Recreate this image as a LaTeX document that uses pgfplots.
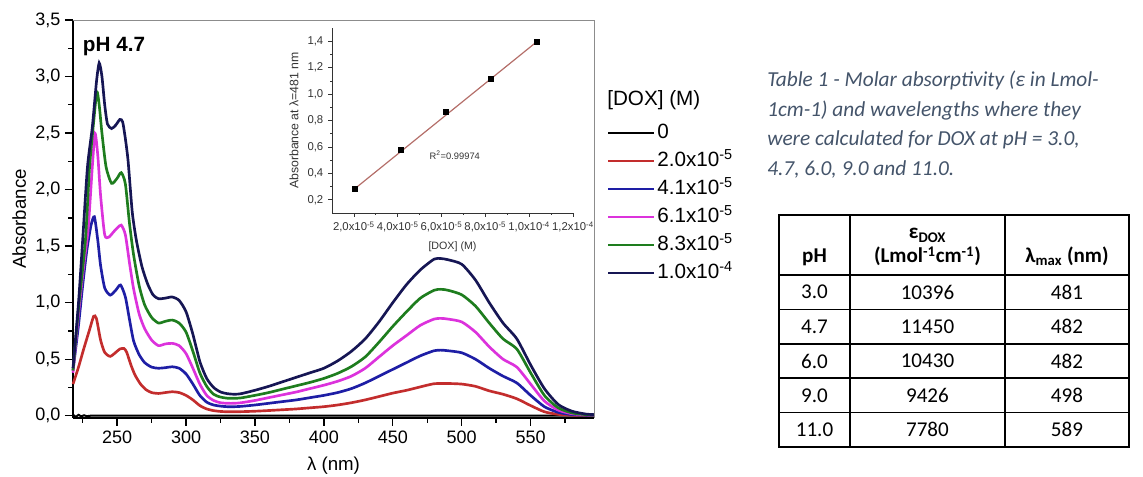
\documentclass[border=0pt]{standalone}
\usepackage{fontspec}
\setmainfont{Liberation Sans}
\newfontfamily\calibri{Carlito}
\usepackage{pgfplots}
\pgfplotsset{compat=1.18}
\definecolor{cnavy}{RGB}{22,22,84}
\definecolor{cblue}{RGB}{30,30,165}
\definecolor{cmag}{RGB}{220,50,220}
\definecolor{cgreen}{RGB}{30,125,30}
\definecolor{cred}{RGB}{195,45,45}
\definecolor{capt}{HTML}{44546A}
\definecolor{fitc}{RGB}{180,110,105}
\begin{document}
\begin{tikzpicture}
\path[use as bounding box] (0pt,0pt) rectangle (857.25pt,357.75pt);
% ---------------- main spectra ----------------
\begin{axis}[
 at={(54.75pt,44.25pt)}, anchor=south west, scale only axis,
 width=390.75pt, height=298.5pt,
 xmin=218, xmax=596, ymin=-0.02, ymax=3.5,
 clip=false,
 axis lines*=left, axis line style={-, line width=1.4pt, black},
 xtick={250,300,350,400,450,500,550}, minor xtick={225,275,325,375,425,475,525,575},
 ytick={0,0.5,1,1.5,2,2.5,3,3.5}, minor ytick={0.25,0.75,1.25,1.75,2.25,2.75,3.25},
 tick align=outside, major tick length=6pt, minor tick length=3.5pt,
 tick style={line width=1pt, black},
 tick label style={font=\fontsize{13.5}{14}\selectfont, /pgf/number format/assume math mode=true},
 yticklabel style={/pgf/number format/.cd, fixed, fixed zerofill, precision=1, use comma, assume math mode=true},
 xticklabel style={/pgf/number format/.cd, 1000 sep={}, assume math mode=true},
 xlabel={λ (nm)}, ylabel={Absorbance},
 label style={font=\fontsize{14}{16}\selectfont},
 xlabel style={yshift=-3pt},
 legend style={at={(axis description cs:1.025,0.7425)}, anchor=north west, draw=none, fill=none,
   inner sep=0pt, font=\fontsize{15.5}{15.5}\selectfont, row sep=5pt, column sep=1.5pt,
   nodes={inner sep=0pt, text height=11.5pt, text depth=4.5pt}},
 legend cell align=left,
 legend image code/.code={\draw[#1, line width=1.5pt] (0pt,0pt) -- (34.5pt,0pt);},
 every axis plot/.append style={line width=2pt, smooth, tension=0.4},
]
\addplot[black, line width=1.5pt] coordinates {(218,0.01)(220,-0.01)(222,0.008)(224,-0.006)(226,0.004)(228,-0.004)(232,0.002)(240,0)(300,0)(400,0)(500,0)(596,0)};
\addlegendentry{0}
\addplot[cred] coordinates {(218,0.28)(222,0.43)(226,0.6)(230,0.76)(233,0.88)(235,0.86)(238,0.67)(241,0.56)(245,0.525)(249,0.56)(252,0.59)(255,0.595)(257,0.56)(260,0.45)(263,0.36)(267,0.28)(271,0.23)(275,0.205)(280,0.197)(285,0.205)(290,0.212)(295,0.205)(300,0.18)(305,0.14)(310,0.09)(315,0.06)(320,0.045)(325,0.038)(330,0.035)(340,0.036)(350,0.04)(360,0.046)(370,0.053)(380,0.06)(390,0.07)(400,0.08)(410,0.095)(420,0.115)(430,0.14)(440,0.17)(450,0.2)(460,0.225)(470,0.255)(480,0.283)(490,0.285)(500,0.28)(510,0.26)(520,0.22)(530,0.19)(540,0.15)(550,0.09)(560,0.035)(570,0.012)(580,0.005)(590,0.003)(596,0.002)};
\addlegendentry{2.0x10\textsuperscript{-5}}
\addplot[cblue] coordinates {(218,0.4)(222,0.8)(225,1.15)(228,1.46)(231,1.68)(233.5,1.76)(236,1.55)(238,1.33)(241,1.13)(245,1.067)(249,1.11)(252.5,1.156)(256,1.05)(259,0.85)(262,0.66)(266,0.54)(270,0.47)(275,0.43)(280,0.42)(285,0.425)(290,0.433)(295,0.42)(300,0.37)(305,0.28)(310,0.18)(315,0.12)(320,0.095)(325,0.085)(330,0.08)(335,0.08)(340,0.083)(350,0.095)(360,0.11)(370,0.125)(380,0.14)(390,0.16)(400,0.18)(410,0.205)(420,0.24)(430,0.29)(440,0.35)(450,0.41)(460,0.47)(470,0.53)(480,0.575)(485,0.58)(490,0.575)(500,0.557)(510,0.5)(520,0.42)(530,0.35)(540,0.29)(550,0.18)(560,0.08)(570,0.03)(580,0.01)(590,0.005)(596,0.003)};
\addlegendentry{4.1x10\textsuperscript{-5}}
\addplot[cmag] coordinates {(218,0.38)(222,0.9)(226,1.35)(229,1.65)(232,2.2)(234,2.497)(236,2.3)(238,1.95)(241,1.6)(244,1.58)(247,1.62)(250,1.66)(253,1.686)(256,1.6)(259,1.35)(262,1.12)(266,0.9)(270,0.77)(275,0.67)(280,0.62)(285,0.635)(290,0.64)(295,0.62)(300,0.55)(305,0.42)(310,0.28)(315,0.18)(320,0.135)(325,0.115)(330,0.11)(335,0.11)(340,0.115)(350,0.135)(360,0.16)(370,0.185)(380,0.21)(390,0.24)(400,0.27)(410,0.305)(420,0.35)(430,0.42)(440,0.52)(450,0.62)(460,0.71)(470,0.8)(480,0.855)(485,0.861)(490,0.855)(500,0.83)(510,0.74)(520,0.61)(530,0.5)(540,0.43)(550,0.28)(560,0.13)(570,0.05)(580,0.018)(590,0.008)(596,0.005)};
\addlegendentry{6.1x10\textsuperscript{-5}}
\addplot[cgreen] coordinates {(218,0.4)(222,0.95)(227,1.55)(230,2.2)(233,2.6)(235.3,2.865)(237,2.75)(239,2.5)(242,2.2)(246,2.055)(250,2.1)(253,2.15)(256,2.05)(259,1.7)(262,1.42)(266,1.15)(270,0.98)(275,0.87)(280,0.82)(285,0.835)(290,0.846)(295,0.82)(300,0.74)(305,0.57)(310,0.38)(315,0.26)(320,0.19)(325,0.165)(330,0.155)(335,0.154)(340,0.158)(350,0.18)(360,0.205)(370,0.235)(380,0.265)(390,0.295)(400,0.33)(410,0.375)(420,0.435)(430,0.52)(440,0.65)(450,0.79)(460,0.92)(470,1.04)(480,1.11)(485,1.118)(490,1.11)(500,1.07)(510,0.97)(520,0.82)(530,0.68)(540,0.59)(550,0.38)(560,0.18)(570,0.07)(580,0.025)(590,0.01)(596,0.005)};
\addlegendentry{8.3x10\textsuperscript{-5}}
\addplot[cnavy] coordinates {(218,0.42)(222,1.0)(225,1.55)(228.5,2.2)(232,2.55)(235,2.95)(237,3.12)(239,3.0)(241,2.75)(243,2.58)(246,2.54)(249,2.57)(252,2.62)(254,2.6)(256,2.45)(258,2.25)(261,1.8)(264,1.55)(268,1.32)(272,1.17)(276,1.07)(280,1.035)(285,1.04)(290,1.05)(295,1.02)(300,0.92)(305,0.72)(310,0.48)(315,0.33)(320,0.25)(325,0.21)(330,0.195)(335,0.19)(340,0.195)(350,0.225)(360,0.26)(370,0.3)(380,0.34)(390,0.38)(400,0.42)(410,0.485)(420,0.57)(430,0.68)(440,0.83)(450,1.0)(460,1.16)(470,1.29)(480,1.385)(485,1.39)(490,1.38)(500,1.34)(510,1.2)(520,1.0)(530,0.82)(540,0.68)(550,0.45)(560,0.24)(570,0.1)(580,0.04)(590,0.015)(596,0.01)};
\addlegendentry{1.0x10\textsuperscript{-4}}
\draw[black!45, line width=0.7pt] (rel axis cs:0,1) -- (rel axis cs:1,1) -- (rel axis cs:1,0);
\end{axis}
% ---------------- inset ----------------
\begin{axis}[
 at={(249pt,198pt)}, anchor=south west, scale only axis,
 width=180.75pt, height=138.75pt,
 xmin=1, xmax=12, ymin=0.1, ymax=1.5,
 axis lines*=left, axis line style={-, line width=0.6pt, black!80},
 xtick={2,4,6,8,10,12},
 xticklabels={{2,0x10\textsuperscript{-5}},{4,0x10\textsuperscript{-5}},{6,0x10\textsuperscript{-5}},{8,0x10\textsuperscript{-5}},{1,0x10\textsuperscript{-4}},{1,2x10\textsuperscript{-4}}},
 minor x tick num=1,
 ytick={0.2,0.4,0.6,0.8,1.0,1.2,1.4}, minor y tick num=1,
 tick align=outside, major tick length=3pt, minor tick length=1.5pt,
 tick style={line width=0.5pt, black!80},
 tick label style={font=\fontsize{8.5}{9}\selectfont, black!80},
 yticklabel style={/pgf/number format/.cd, fixed, fixed zerofill, precision=1, use comma, assume math mode=true},
 xlabel={[DOX] (M)}, ylabel={Absorbance at λ=481 nm},
 label style={font=\fontsize{8}{9}\selectfont, black!80},
 ylabel style={font=\fontsize{9.2}{10}\selectfont},
]
\addplot[fitc, line width=0.9pt] coordinates {(2.05,0.285)(10.34,1.395)};
\addplot[only marks, mark=square*, mark size=2pt, black] coordinates {(2.05,0.283)(4.13,0.577)(6.2,0.865)(8.25,1.117)(10.34,1.395)};
\node[anchor=west, font=\fontsize{7}{8}\selectfont, black!80] at (axis cs:5.24,0.54) {R\textsuperscript{2}=0.99974};
\end{axis}
% ---------------- texts ----------------
\node[font=\bfseries\fontsize{15.5}{16}\selectfont] at (85.5pt,322.5pt) {pH 4.7};
\node[anchor=west, font=\fontsize{15.5}{16}\selectfont, inner sep=0pt] at (455.25pt,282.75pt) {[DOX] (M)};
% caption
\begin{scope}[every node/.style={anchor=base west, inner sep=0pt, text=capt, font=\calibri\itshape\fontsize{16}{18}\selectfont}]
\node at (575.25pt,292.5pt) {Table 1 - Molar absorptivity (ε in Lmol-};
\node at (575.25pt,270.375pt) {1cm-1) and wavelengths where they};
\node at (575.25pt,248.25pt) {were calculated for DOX at pH = 3.0,};
\node at (575.25pt,226.125pt) {4.7, 6.0, 9.0 and 11.0.};
\end{scope}
% table
\begin{scope}[line width=1.3pt]
\draw (584.25pt,22.5pt) rectangle (846.75pt,196.5pt);
\draw (637.5pt,22.5pt) -- (637.5pt,196.5pt);
\draw (753.75pt,22.5pt) -- (753.75pt,196.5pt);
\foreach \yy in {151.5,125.7,99.9,74.1,48.3} {\draw (584.25pt,\yy pt) -- (846.75pt,\yy pt);}
\end{scope}
\begin{scope}[every node/.style={inner sep=0pt, font=\calibri\fontsize{15.8}{18}\selectfont}]
\node[anchor=base, font=\calibri\bfseries\fontsize{15.8}{18}\selectfont] at (610.9pt,160.5pt) {pH};
\node[anchor=base, font=\calibri\bfseries\fontsize{15.8}{18}\selectfont] at (695.6pt,178.5pt) {ε\textsubscript{DOX}};
\node[anchor=base, font=\calibri\bfseries\fontsize{15.8}{18}\selectfont] at (695.6pt,160.5pt) {(Lmol\textsuperscript{-1}cm\textsuperscript{-1})};
\node[anchor=base, font=\calibri\bfseries\fontsize{15.8}{18}\selectfont] at (800.25pt,160.5pt) {λ\textsubscript{max} (nm)};
\foreach \yy/\a/\b/\c in {138.6/3.0/10396/481, 112.8/4.7/11450/482, 87.0/6.0/10430/482, 61.2/9.0/9426/498, 35.4/11.0/7780/589} {
  \node at (610.9pt,\yy pt) {\a};
  \node at (695.6pt,\yy pt) {\b};
  \node at (800.25pt,\yy pt) {\c};
}
\end{scope}
\end{tikzpicture}
\end{document}
